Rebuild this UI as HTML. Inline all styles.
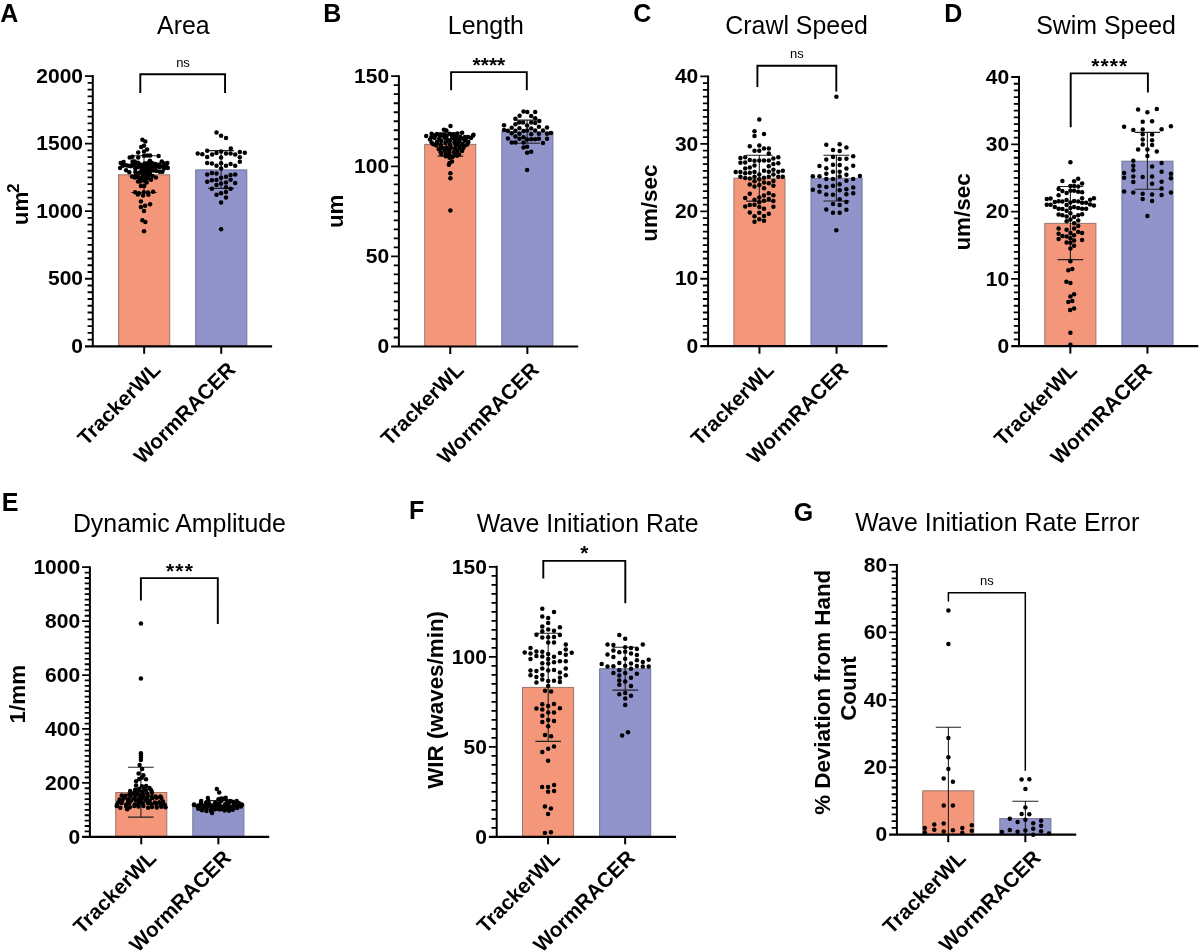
<!DOCTYPE html>
<html><head><meta charset="utf-8"><style>
html,body{margin:0;padding:0;background:#fff;}
svg{display:block;font-family:"Liberation Sans", sans-serif;filter:blur(0.3px);}
</style></head><body>
<svg width="1200" height="952" viewBox="0 0 1200 952">
<rect width="1200" height="952" fill="#fff"/>
<rect x="118.60" y="174.80" width="51.10" height="171.50" fill="#F3967A" stroke="#9A766E" stroke-width="1"/>
<rect x="195.70" y="169.90" width="51.10" height="176.40" fill="#9194CA" stroke="#74769A" stroke-width="1"/>
<path d="M131.25,155.70H156.75M144.00,155.70V192.50M131.25,192.50H156.75" stroke="#222" stroke-width="1.1" fill="none"/>
<path d="M208.10,150.60H234.10M221.10,150.60V188.40M208.10,188.40H234.10" stroke="#222" stroke-width="1.1" fill="none"/>
<circle cx="142.4" cy="139.7" r="2.25"/>
<circle cx="145.3" cy="141.4" r="2.25"/>
<circle cx="141.2" cy="146.9" r="2.25"/>
<circle cx="144.0" cy="145.8" r="2.25"/>
<circle cx="147.1" cy="149.4" r="2.25"/>
<circle cx="144.0" cy="151.6" r="2.25"/>
<circle cx="138.2" cy="152.6" r="2.25"/>
<circle cx="129.7" cy="157.6" r="2.25"/>
<circle cx="132.4" cy="156.8" r="2.25"/>
<circle cx="138.2" cy="157.6" r="2.25"/>
<circle cx="144.0" cy="155.7" r="2.25"/>
<circle cx="147.1" cy="155.4" r="2.25"/>
<circle cx="150.1" cy="155.4" r="2.25"/>
<circle cx="158.6" cy="156.1" r="2.25"/>
<circle cx="140.9" cy="186.1" r="2.25"/>
<circle cx="144.2" cy="186.1" r="2.25"/>
<circle cx="140.9" cy="201.5" r="2.25"/>
<circle cx="150.1" cy="204.3" r="2.25"/>
<circle cx="145.1" cy="205.7" r="2.25"/>
<circle cx="140.9" cy="207.1" r="2.25"/>
<circle cx="144.0" cy="210.9" r="2.25"/>
<circle cx="142.4" cy="220.3" r="2.25"/>
<circle cx="145.3" cy="222.0" r="2.25"/>
<circle cx="144.0" cy="231.3" r="2.25"/>
<circle cx="135.2" cy="192.3" r="2.25"/>
<circle cx="138.8" cy="193.2" r="2.25"/>
<circle cx="143.8" cy="192.2" r="2.25"/>
<circle cx="148.0" cy="192.6" r="2.25"/>
<circle cx="153.1" cy="191.7" r="2.25"/>
<circle cx="137.9" cy="194.6" r="2.25"/>
<circle cx="143.1" cy="195.6" r="2.25"/>
<circle cx="148.4" cy="194.7" r="2.25"/>
<circle cx="120.7" cy="163.0" r="2.25"/>
<circle cx="123.6" cy="161.9" r="2.25"/>
<circle cx="132.6" cy="161.6" r="2.25"/>
<circle cx="134.8" cy="161.6" r="2.25"/>
<circle cx="138.0" cy="162.7" r="2.25"/>
<circle cx="149.9" cy="160.8" r="2.25"/>
<circle cx="152.1" cy="163.0" r="2.25"/>
<circle cx="161.8" cy="161.6" r="2.25"/>
<circle cx="167.3" cy="163.0" r="2.25"/>
<circle cx="120.1" cy="167.9" r="2.25"/>
<circle cx="126.1" cy="165.2" r="2.25"/>
<circle cx="128.3" cy="165.7" r="2.25"/>
<circle cx="131.0" cy="166.3" r="2.25"/>
<circle cx="134.8" cy="165.7" r="2.25"/>
<circle cx="138.0" cy="167.3" r="2.25"/>
<circle cx="141.3" cy="166.3" r="2.25"/>
<circle cx="143.4" cy="166.3" r="2.25"/>
<circle cx="146.7" cy="164.6" r="2.25"/>
<circle cx="149.9" cy="165.7" r="2.25"/>
<circle cx="153.2" cy="166.3" r="2.25"/>
<circle cx="156.4" cy="166.3" r="2.25"/>
<circle cx="159.7" cy="167.3" r="2.25"/>
<circle cx="162.9" cy="166.3" r="2.25"/>
<circle cx="166.2" cy="165.2" r="2.25"/>
<circle cx="167.8" cy="167.9" r="2.25"/>
<circle cx="122.8" cy="165.7" r="2.25"/>
<circle cx="144.5" cy="163.5" r="2.25"/>
<circle cx="147.8" cy="163.0" r="2.25"/>
<circle cx="155.3" cy="164.1" r="2.25"/>
<circle cx="159.1" cy="164.6" r="2.25"/>
<circle cx="164.0" cy="163.5" r="2.25"/>
<circle cx="132.6" cy="163.8" r="2.25"/>
<circle cx="135.8" cy="164.1" r="2.25"/>
<circle cx="140.2" cy="164.6" r="2.25"/>
<circle cx="142.3" cy="168.4" r="2.25"/>
<circle cx="145.6" cy="167.9" r="2.25"/>
<circle cx="148.8" cy="167.9" r="2.25"/>
<circle cx="152.1" cy="168.4" r="2.25"/>
<circle cx="155.3" cy="168.4" r="2.25"/>
<circle cx="164.0" cy="168.4" r="2.25"/>
<circle cx="166.2" cy="167.3" r="2.25"/>
<circle cx="135.3" cy="168.4" r="2.25"/>
<circle cx="126.1" cy="170.3" r="2.25"/>
<circle cx="129.3" cy="172.2" r="2.25"/>
<circle cx="135.3" cy="171.9" r="2.25"/>
<circle cx="141.3" cy="171.1" r="2.25"/>
<circle cx="144.0" cy="170.0" r="2.25"/>
<circle cx="147.2" cy="170.6" r="2.25"/>
<circle cx="149.9" cy="169.5" r="2.25"/>
<circle cx="153.2" cy="170.6" r="2.25"/>
<circle cx="156.4" cy="171.1" r="2.25"/>
<circle cx="159.7" cy="171.7" r="2.25"/>
<circle cx="162.4" cy="171.7" r="2.25"/>
<circle cx="139.1" cy="172.8" r="2.25"/>
<circle cx="142.3" cy="173.3" r="2.25"/>
<circle cx="146.7" cy="173.3" r="2.25"/>
<circle cx="149.9" cy="172.8" r="2.25"/>
<circle cx="144.5" cy="172.2" r="2.25"/>
<circle cx="148.8" cy="171.7" r="2.25"/>
<circle cx="132.0" cy="176.5" r="2.25"/>
<circle cx="134.8" cy="177.6" r="2.25"/>
<circle cx="138.0" cy="177.1" r="2.25"/>
<circle cx="142.3" cy="177.1" r="2.25"/>
<circle cx="145.6" cy="176.5" r="2.25"/>
<circle cx="149.4" cy="175.5" r="2.25"/>
<circle cx="155.9" cy="177.4" r="2.25"/>
<circle cx="151.0" cy="179.8" r="2.25"/>
<circle cx="138.0" cy="181.4" r="2.25"/>
<circle cx="140.2" cy="181.4" r="2.25"/>
<circle cx="142.3" cy="180.3" r="2.25"/>
<circle cx="146.7" cy="182.5" r="2.25"/>
<circle cx="144.5" cy="178.7" r="2.25"/>
<circle cx="147.8" cy="178.2" r="2.25"/>
<circle cx="140.2" cy="178.7" r="2.25"/>
<circle cx="135.8" cy="175.5" r="2.25"/>
<circle cx="152.6" cy="176.0" r="2.25"/>
<circle cx="145.6" cy="180.9" r="2.25"/>
<circle cx="216.5" cy="132.4" r="2.25"/>
<circle cx="221.1" cy="135.8" r="2.25"/>
<circle cx="226.0" cy="137.9" r="2.25"/>
<circle cx="230.8" cy="148.5" r="2.25"/>
<circle cx="197.7" cy="153.4" r="2.25"/>
<circle cx="202.3" cy="154.3" r="2.25"/>
<circle cx="207.2" cy="150.8" r="2.25"/>
<circle cx="212.1" cy="154.6" r="2.25"/>
<circle cx="216.5" cy="153.1" r="2.25"/>
<circle cx="221.1" cy="151.6" r="2.25"/>
<circle cx="226.0" cy="153.5" r="2.25"/>
<circle cx="230.6" cy="153.5" r="2.25"/>
<circle cx="235.2" cy="154.6" r="2.25"/>
<circle cx="239.8" cy="152.0" r="2.25"/>
<circle cx="244.8" cy="152.8" r="2.25"/>
<circle cx="207.2" cy="156.9" r="2.25"/>
<circle cx="221.1" cy="157.4" r="2.25"/>
<circle cx="239.8" cy="157.2" r="2.25"/>
<circle cx="239.8" cy="161.8" r="2.25"/>
<circle cx="207.2" cy="163.0" r="2.25"/>
<circle cx="211.9" cy="163.5" r="2.25"/>
<circle cx="216.5" cy="165.8" r="2.25"/>
<circle cx="221.1" cy="163.2" r="2.25"/>
<circle cx="226.0" cy="165.8" r="2.25"/>
<circle cx="230.6" cy="163.9" r="2.25"/>
<circle cx="235.2" cy="165.8" r="2.25"/>
<circle cx="221.1" cy="168.5" r="2.25"/>
<circle cx="207.2" cy="174.5" r="2.25"/>
<circle cx="211.9" cy="173.1" r="2.25"/>
<circle cx="216.5" cy="173.6" r="2.25"/>
<circle cx="230.6" cy="175.1" r="2.25"/>
<circle cx="235.2" cy="174.5" r="2.25"/>
<circle cx="221.1" cy="177.7" r="2.25"/>
<circle cx="226.0" cy="176.8" r="2.25"/>
<circle cx="207.2" cy="181.8" r="2.25"/>
<circle cx="211.9" cy="180.3" r="2.25"/>
<circle cx="216.5" cy="180.0" r="2.25"/>
<circle cx="230.6" cy="179.7" r="2.25"/>
<circle cx="235.2" cy="182.9" r="2.25"/>
<circle cx="216.5" cy="185.1" r="2.25"/>
<circle cx="221.1" cy="183.4" r="2.25"/>
<circle cx="226.0" cy="182.6" r="2.25"/>
<circle cx="211.9" cy="188.7" r="2.25"/>
<circle cx="226.0" cy="187.2" r="2.25"/>
<circle cx="230.6" cy="188.7" r="2.25"/>
<circle cx="226.0" cy="192.1" r="2.25"/>
<circle cx="216.5" cy="194.7" r="2.25"/>
<circle cx="221.1" cy="193.3" r="2.25"/>
<circle cx="226.0" cy="197.6" r="2.25"/>
<circle cx="221.1" cy="202.4" r="2.25"/>
<circle cx="221.1" cy="229.3" r="2.25"/>
<path d="M92.80,75.10V346.30" stroke="#000" stroke-width="2" fill="none"/>
<path d="M85.00,346.30H272.10" stroke="#000" stroke-width="2.2" fill="none"/>
<path d="M87.60,339.55H92.80M87.60,332.79H92.80M87.60,326.04H92.80M87.60,319.28H92.80M87.60,312.52H92.80M87.60,305.77H92.80M87.60,299.01H92.80M87.60,292.26H92.80M87.60,285.50H92.80M85.00,278.75H92.80M87.60,272.00H92.80M87.60,265.24H92.80M87.60,258.49H92.80M87.60,251.73H92.80M87.60,244.97H92.80M87.60,238.22H92.80M87.60,231.46H92.80M87.60,224.71H92.80M87.60,217.95H92.80M85.00,211.20H92.80M87.60,204.44H92.80M87.60,197.69H92.80M87.60,190.93H92.80M87.60,184.18H92.80M87.60,177.42H92.80M87.60,170.67H92.80M87.60,163.91H92.80M87.60,157.16H92.80M87.60,150.40H92.80M85.00,143.65H92.80M87.60,136.89H92.80M87.60,130.14H92.80M87.60,123.38H92.80M87.60,116.63H92.80M87.60,109.87H92.80M87.60,103.12H92.80M87.60,96.36H92.80M87.60,89.61H92.80M87.60,82.85H92.80M85.00,76.10H92.80" stroke="#000" stroke-width="1.8" fill="none"/>
<path d="M144.15,346.30V353.80" stroke="#000" stroke-width="2" fill="none"/>
<path d="M221.25,346.30V353.80" stroke="#000" stroke-width="2" fill="none"/>
<text x="83.00" y="353.00" font-size="21" font-weight="bold" text-anchor="end" >0</text>
<text x="83.00" y="285.45" font-size="21" font-weight="bold" text-anchor="end" >500</text>
<text x="83.00" y="217.90" font-size="21" font-weight="bold" text-anchor="end" >1000</text>
<text x="83.00" y="150.35" font-size="21" font-weight="bold" text-anchor="end" >1500</text>
<text x="83.00" y="82.80" font-size="21" font-weight="bold" text-anchor="end" >2000</text>
<text transform="translate(161.70,371.00) rotate(-45)" font-size="20.9" font-weight="bold" text-anchor="end">TrackerWL</text>
<text transform="translate(236.55,370.85) rotate(-45)" font-size="20.9" font-weight="bold" text-anchor="end">WormRACER</text>
<path d="M140.30,93.00V74.20H225.05V93.00" stroke="#000" stroke-width="1.9" fill="none"/>
<text x="183.00" y="66.70" font-size="13" font-weight="normal" text-anchor="middle" >ns</text>
<text x="0.30" y="21.80" font-size="25" font-weight="bold" text-anchor="start" >A</text>
<text x="183.40" y="34.00" font-size="24.9" font-weight="normal" text-anchor="middle" >Area</text>
<text transform="translate(27.70,204.30) rotate(-90)" font-size="22.4" font-weight="bold" text-anchor="middle">um<tspan font-size="17.2" dx="-1.2" dy="-8.6">2</tspan></text>
<rect x="424.70" y="144.40" width="51.10" height="202.10" fill="#F3967A" stroke="#9A766E" stroke-width="1"/>
<rect x="501.80" y="131.80" width="51.10" height="214.70" fill="#9194CA" stroke="#74769A" stroke-width="1"/>
<path d="M437.60,132.70H463.20M450.40,132.70V156.10M437.60,156.10H463.20" stroke="#222" stroke-width="1.1" fill="none"/>
<path d="M514.10,120.10H540.10M527.10,120.10V143.20M514.10,143.20H540.10" stroke="#222" stroke-width="1.1" fill="none"/>
<circle cx="450.5" cy="126.1" r="2.25"/>
<circle cx="443.9" cy="129.7" r="2.25"/>
<circle cx="446.4" cy="130.6" r="2.25"/>
<circle cx="431.6" cy="133.8" r="2.25"/>
<circle cx="473.5" cy="134.7" r="2.25"/>
<circle cx="452.0" cy="161.5" r="2.25"/>
<circle cx="449.5" cy="163.1" r="2.25"/>
<circle cx="448.9" cy="164.7" r="2.25"/>
<circle cx="436.9" cy="133.9" r="2.25"/>
<circle cx="440.9" cy="134.8" r="2.25"/>
<circle cx="444.6" cy="134.8" r="2.25"/>
<circle cx="449.4" cy="133.8" r="2.25"/>
<circle cx="453.1" cy="134.2" r="2.25"/>
<circle cx="457.4" cy="133.4" r="2.25"/>
<circle cx="462.1" cy="132.7" r="2.25"/>
<circle cx="426.2" cy="135.9" r="2.25"/>
<circle cx="431.3" cy="137.3" r="2.25"/>
<circle cx="435.1" cy="135.2" r="2.25"/>
<circle cx="439.7" cy="137.1" r="2.25"/>
<circle cx="443.7" cy="135.6" r="2.25"/>
<circle cx="446.7" cy="136.1" r="2.25"/>
<circle cx="452.3" cy="136.5" r="2.25"/>
<circle cx="456.3" cy="135.7" r="2.25"/>
<circle cx="460.2" cy="136.7" r="2.25"/>
<circle cx="465.0" cy="137.0" r="2.25"/>
<circle cx="468.1" cy="137.1" r="2.25"/>
<circle cx="472.9" cy="135.7" r="2.25"/>
<circle cx="430.0" cy="139.5" r="2.25"/>
<circle cx="434.6" cy="138.1" r="2.25"/>
<circle cx="439.2" cy="138.8" r="2.25"/>
<circle cx="444.5" cy="137.8" r="2.25"/>
<circle cx="447.6" cy="139.9" r="2.25"/>
<circle cx="453.3" cy="138.0" r="2.25"/>
<circle cx="456.8" cy="138.9" r="2.25"/>
<circle cx="461.2" cy="138.4" r="2.25"/>
<circle cx="465.6" cy="139.3" r="2.25"/>
<circle cx="471.0" cy="137.9" r="2.25"/>
<circle cx="431.6" cy="142.4" r="2.25"/>
<circle cx="436.9" cy="142.0" r="2.25"/>
<circle cx="441.3" cy="141.0" r="2.25"/>
<circle cx="445.7" cy="141.9" r="2.25"/>
<circle cx="450.0" cy="140.4" r="2.25"/>
<circle cx="454.8" cy="140.9" r="2.25"/>
<circle cx="459.4" cy="141.2" r="2.25"/>
<circle cx="464.6" cy="140.7" r="2.25"/>
<circle cx="468.4" cy="141.9" r="2.25"/>
<circle cx="433.1" cy="144.3" r="2.25"/>
<circle cx="437.5" cy="142.9" r="2.25"/>
<circle cx="441.0" cy="144.9" r="2.25"/>
<circle cx="445.4" cy="143.1" r="2.25"/>
<circle cx="449.8" cy="143.9" r="2.25"/>
<circle cx="454.4" cy="142.8" r="2.25"/>
<circle cx="457.8" cy="143.8" r="2.25"/>
<circle cx="462.4" cy="144.1" r="2.25"/>
<circle cx="467.2" cy="144.5" r="2.25"/>
<circle cx="436.3" cy="145.5" r="2.25"/>
<circle cx="441.0" cy="146.2" r="2.25"/>
<circle cx="446.3" cy="147.4" r="2.25"/>
<circle cx="450.3" cy="145.8" r="2.25"/>
<circle cx="455.9" cy="145.3" r="2.25"/>
<circle cx="459.6" cy="146.1" r="2.25"/>
<circle cx="464.7" cy="145.7" r="2.25"/>
<circle cx="438.8" cy="149.3" r="2.25"/>
<circle cx="442.9" cy="148.3" r="2.25"/>
<circle cx="446.8" cy="149.3" r="2.25"/>
<circle cx="450.8" cy="147.9" r="2.25"/>
<circle cx="455.1" cy="148.2" r="2.25"/>
<circle cx="459.5" cy="148.2" r="2.25"/>
<circle cx="463.4" cy="148.1" r="2.25"/>
<circle cx="440.7" cy="152.3" r="2.25"/>
<circle cx="444.7" cy="151.0" r="2.25"/>
<circle cx="449.3" cy="151.8" r="2.25"/>
<circle cx="453.9" cy="152.1" r="2.25"/>
<circle cx="457.4" cy="151.3" r="2.25"/>
<circle cx="462.1" cy="151.1" r="2.25"/>
<circle cx="441.3" cy="154.0" r="2.25"/>
<circle cx="445.9" cy="154.2" r="2.25"/>
<circle cx="449.4" cy="153.7" r="2.25"/>
<circle cx="454.9" cy="152.9" r="2.25"/>
<circle cx="459.0" cy="154.5" r="2.25"/>
<circle cx="445.7" cy="156.2" r="2.25"/>
<circle cx="449.3" cy="155.7" r="2.25"/>
<circle cx="452.9" cy="156.4" r="2.25"/>
<circle cx="457.1" cy="155.8" r="2.25"/>
<circle cx="449.5" cy="157.8" r="2.25"/>
<circle cx="452.0" cy="157.3" r="2.25"/>
<circle cx="450.4" cy="173.3" r="2.25"/>
<circle cx="450.4" cy="178.3" r="2.25"/>
<circle cx="450.4" cy="210.4" r="2.25"/>
<circle cx="523.5" cy="111.6" r="2.25"/>
<circle cx="527.3" cy="112.0" r="2.25"/>
<circle cx="535.2" cy="112.0" r="2.25"/>
<circle cx="519.6" cy="115.7" r="2.25"/>
<circle cx="531.2" cy="115.9" r="2.25"/>
<circle cx="515.4" cy="118.8" r="2.25"/>
<circle cx="535.2" cy="118.2" r="2.25"/>
<circle cx="539.3" cy="121.0" r="2.25"/>
<circle cx="515.4" cy="124.3" r="2.25"/>
<circle cx="519.1" cy="122.5" r="2.25"/>
<circle cx="523.1" cy="122.5" r="2.25"/>
<circle cx="531.2" cy="122.5" r="2.25"/>
<circle cx="535.2" cy="123.0" r="2.25"/>
<circle cx="504.0" cy="125.2" r="2.25"/>
<circle cx="527.1" cy="125.6" r="2.25"/>
<circle cx="538.9" cy="126.7" r="2.25"/>
<circle cx="511.7" cy="127.8" r="2.25"/>
<circle cx="519.4" cy="128.2" r="2.25"/>
<circle cx="531.2" cy="128.4" r="2.25"/>
<circle cx="547.0" cy="127.6" r="2.25"/>
<circle cx="504.0" cy="130.0" r="2.25"/>
<circle cx="507.9" cy="130.7" r="2.25"/>
<circle cx="515.4" cy="130.7" r="2.25"/>
<circle cx="523.5" cy="131.1" r="2.25"/>
<circle cx="527.1" cy="130.4" r="2.25"/>
<circle cx="535.2" cy="130.4" r="2.25"/>
<circle cx="543.0" cy="130.4" r="2.25"/>
<circle cx="511.7" cy="133.3" r="2.25"/>
<circle cx="519.4" cy="133.8" r="2.25"/>
<circle cx="531.2" cy="134.3" r="2.25"/>
<circle cx="538.9" cy="133.7" r="2.25"/>
<circle cx="547.0" cy="133.7" r="2.25"/>
<circle cx="551.0" cy="133.1" r="2.25"/>
<circle cx="515.4" cy="136.5" r="2.25"/>
<circle cx="523.5" cy="137.2" r="2.25"/>
<circle cx="507.9" cy="138.5" r="2.25"/>
<circle cx="519.4" cy="138.8" r="2.25"/>
<circle cx="527.1" cy="139.6" r="2.25"/>
<circle cx="531.2" cy="139.2" r="2.25"/>
<circle cx="535.2" cy="139.2" r="2.25"/>
<circle cx="538.9" cy="138.8" r="2.25"/>
<circle cx="547.0" cy="138.7" r="2.25"/>
<circle cx="511.7" cy="142.6" r="2.25"/>
<circle cx="515.4" cy="142.6" r="2.25"/>
<circle cx="523.5" cy="142.6" r="2.25"/>
<circle cx="543.0" cy="142.9" r="2.25"/>
<circle cx="523.5" cy="147.5" r="2.25"/>
<circle cx="527.1" cy="146.8" r="2.25"/>
<circle cx="527.1" cy="152.8" r="2.25"/>
<circle cx="531.2" cy="151.7" r="2.25"/>
<circle cx="527.1" cy="170.1" r="2.25"/>
<path d="M398.90,75.20V346.50" stroke="#000" stroke-width="2" fill="none"/>
<path d="M391.10,346.50H578.20" stroke="#000" stroke-width="2.2" fill="none"/>
<path d="M393.70,337.49H398.90M393.70,328.48H398.90M393.70,319.47H398.90M393.70,310.46H398.90M393.70,301.45H398.90M393.70,292.44H398.90M393.70,283.43H398.90M393.70,274.42H398.90M393.70,265.41H398.90M391.10,256.40H398.90M393.70,247.39H398.90M393.70,238.38H398.90M393.70,229.37H398.90M393.70,220.36H398.90M393.70,211.35H398.90M393.70,202.34H398.90M393.70,193.33H398.90M393.70,184.32H398.90M393.70,175.31H398.90M391.10,166.30H398.90M393.70,157.29H398.90M393.70,148.28H398.90M393.70,139.27H398.90M393.70,130.26H398.90M393.70,121.25H398.90M393.70,112.24H398.90M393.70,103.23H398.90M393.70,94.22H398.90M393.70,85.21H398.90M391.10,76.20H398.90" stroke="#000" stroke-width="1.8" fill="none"/>
<path d="M450.25,346.50V354.00" stroke="#000" stroke-width="2" fill="none"/>
<path d="M527.35,346.50V354.00" stroke="#000" stroke-width="2" fill="none"/>
<text x="389.10" y="353.20" font-size="21" font-weight="bold" text-anchor="end" >0</text>
<text x="389.10" y="263.10" font-size="21" font-weight="bold" text-anchor="end" >50</text>
<text x="389.10" y="173.00" font-size="21" font-weight="bold" text-anchor="end" >100</text>
<text x="389.10" y="82.90" font-size="21" font-weight="bold" text-anchor="end" >150</text>
<text transform="translate(464.95,371.20) rotate(-45)" font-size="20.9" font-weight="bold" text-anchor="end">TrackerWL</text>
<text transform="translate(540.05,371.05) rotate(-45)" font-size="20.9" font-weight="bold" text-anchor="end">WormRACER</text>
<path d="M451.10,90.20V72.10H526.80V90.20" stroke="#000" stroke-width="1.9" fill="none"/>
<text x="488.90" y="71.80" font-size="21" font-weight="bold" text-anchor="middle" >****</text>
<text x="323.30" y="22.00" font-size="25" font-weight="bold" text-anchor="start" >B</text>
<text x="485.90" y="34.00" font-size="24.9" font-weight="normal" text-anchor="middle" >Length</text>
<text transform="translate(342.60,211.30) rotate(-90)" font-size="22.4" font-weight="bold" text-anchor="middle">um</text>
<rect x="733.90" y="178.20" width="51.10" height="168.00" fill="#F3967A" stroke="#9A766E" stroke-width="1"/>
<rect x="811.00" y="178.30" width="51.10" height="167.90" fill="#9194CA" stroke="#74769A" stroke-width="1"/>
<path d="M746.05,155.30H772.55M759.30,155.30V201.10M746.05,201.10H772.55" stroke="#222" stroke-width="1.1" fill="none"/>
<path d="M823.40,155.30H849.40M836.40,155.30V201.00M823.40,201.00H849.40" stroke="#222" stroke-width="1.1" fill="none"/>
<circle cx="759.3" cy="119.6" r="2.25"/>
<circle cx="754.5" cy="131.2" r="2.25"/>
<circle cx="754.5" cy="135.9" r="2.25"/>
<circle cx="764.0" cy="134.0" r="2.25"/>
<circle cx="749.8" cy="146.3" r="2.25"/>
<circle cx="759.3" cy="145.6" r="2.25"/>
<circle cx="754.5" cy="150.7" r="2.25"/>
<circle cx="759.3" cy="150.8" r="2.25"/>
<circle cx="764.0" cy="148.6" r="2.25"/>
<circle cx="768.8" cy="148.6" r="2.25"/>
<circle cx="768.8" cy="153.6" r="2.25"/>
<circle cx="740.4" cy="158.1" r="2.25"/>
<circle cx="745.2" cy="157.2" r="2.25"/>
<circle cx="773.4" cy="158.4" r="2.25"/>
<circle cx="778.3" cy="157.2" r="2.25"/>
<circle cx="749.8" cy="160.1" r="2.25"/>
<circle cx="754.5" cy="160.7" r="2.25"/>
<circle cx="759.3" cy="160.6" r="2.25"/>
<circle cx="764.0" cy="160.6" r="2.25"/>
<circle cx="768.8" cy="160.6" r="2.25"/>
<circle cx="740.4" cy="162.8" r="2.25"/>
<circle cx="745.2" cy="162.4" r="2.25"/>
<circle cx="773.4" cy="164.1" r="2.25"/>
<circle cx="778.3" cy="163.3" r="2.25"/>
<circle cx="754.5" cy="165.4" r="2.25"/>
<circle cx="768.8" cy="166.2" r="2.25"/>
<circle cx="745.2" cy="168.5" r="2.25"/>
<circle cx="749.8" cy="167.6" r="2.25"/>
<circle cx="735.7" cy="172.1" r="2.25"/>
<circle cx="740.4" cy="172.1" r="2.25"/>
<circle cx="745.2" cy="173.2" r="2.25"/>
<circle cx="749.8" cy="172.7" r="2.25"/>
<circle cx="754.5" cy="172.1" r="2.25"/>
<circle cx="764.0" cy="170.8" r="2.25"/>
<circle cx="768.8" cy="171.8" r="2.25"/>
<circle cx="773.4" cy="169.8" r="2.25"/>
<circle cx="778.3" cy="171.8" r="2.25"/>
<circle cx="782.8" cy="170.8" r="2.25"/>
<circle cx="759.3" cy="174.4" r="2.25"/>
<circle cx="773.4" cy="174.4" r="2.25"/>
<circle cx="740.4" cy="176.7" r="2.25"/>
<circle cx="745.2" cy="178.0" r="2.25"/>
<circle cx="749.8" cy="178.4" r="2.25"/>
<circle cx="754.5" cy="176.7" r="2.25"/>
<circle cx="764.0" cy="177.7" r="2.25"/>
<circle cx="768.8" cy="176.7" r="2.25"/>
<circle cx="778.3" cy="176.7" r="2.25"/>
<circle cx="782.8" cy="176.7" r="2.25"/>
<circle cx="754.5" cy="181.3" r="2.25"/>
<circle cx="759.3" cy="179.2" r="2.25"/>
<circle cx="773.4" cy="180.9" r="2.25"/>
<circle cx="749.8" cy="184.4" r="2.25"/>
<circle cx="754.5" cy="186.6" r="2.25"/>
<circle cx="759.3" cy="185.1" r="2.25"/>
<circle cx="764.0" cy="182.6" r="2.25"/>
<circle cx="768.8" cy="183.3" r="2.25"/>
<circle cx="773.4" cy="185.8" r="2.25"/>
<circle cx="764.0" cy="188.3" r="2.25"/>
<circle cx="749.8" cy="193.8" r="2.25"/>
<circle cx="764.0" cy="195.5" r="2.25"/>
<circle cx="768.8" cy="193.2" r="2.25"/>
<circle cx="773.4" cy="195.3" r="2.25"/>
<circle cx="745.2" cy="198.0" r="2.25"/>
<circle cx="759.3" cy="197.6" r="2.25"/>
<circle cx="754.5" cy="199.7" r="2.25"/>
<circle cx="768.8" cy="198.9" r="2.25"/>
<circle cx="764.0" cy="200.8" r="2.25"/>
<circle cx="773.4" cy="201.0" r="2.25"/>
<circle cx="759.3" cy="202.2" r="2.25"/>
<circle cx="745.2" cy="206.4" r="2.25"/>
<circle cx="749.8" cy="205.0" r="2.25"/>
<circle cx="754.5" cy="204.7" r="2.25"/>
<circle cx="759.3" cy="207.0" r="2.25"/>
<circle cx="764.0" cy="208.7" r="2.25"/>
<circle cx="773.4" cy="206.7" r="2.25"/>
<circle cx="749.8" cy="212.6" r="2.25"/>
<circle cx="759.3" cy="212.7" r="2.25"/>
<circle cx="768.8" cy="213.7" r="2.25"/>
<circle cx="754.5" cy="216.3" r="2.25"/>
<circle cx="764.0" cy="215.9" r="2.25"/>
<circle cx="759.3" cy="219.3" r="2.25"/>
<circle cx="754.5" cy="221.8" r="2.25"/>
<circle cx="764.0" cy="220.7" r="2.25"/>
<circle cx="826.3" cy="144.7" r="2.25"/>
<circle cx="839.7" cy="144.2" r="2.25"/>
<circle cx="846.4" cy="147.6" r="2.25"/>
<circle cx="833.0" cy="150.0" r="2.25"/>
<circle cx="839.7" cy="151.1" r="2.25"/>
<circle cx="853.2" cy="156.2" r="2.25"/>
<circle cx="833.0" cy="157.0" r="2.25"/>
<circle cx="826.3" cy="159.4" r="2.25"/>
<circle cx="839.7" cy="158.9" r="2.25"/>
<circle cx="846.4" cy="158.8" r="2.25"/>
<circle cx="819.5" cy="165.9" r="2.25"/>
<circle cx="833.0" cy="164.8" r="2.25"/>
<circle cx="839.7" cy="165.1" r="2.25"/>
<circle cx="853.2" cy="165.7" r="2.25"/>
<circle cx="826.3" cy="168.2" r="2.25"/>
<circle cx="846.4" cy="168.4" r="2.25"/>
<circle cx="833.0" cy="171.8" r="2.25"/>
<circle cx="839.7" cy="171.8" r="2.25"/>
<circle cx="826.3" cy="173.7" r="2.25"/>
<circle cx="846.4" cy="174.7" r="2.25"/>
<circle cx="812.8" cy="176.3" r="2.25"/>
<circle cx="819.5" cy="176.3" r="2.25"/>
<circle cx="839.7" cy="176.6" r="2.25"/>
<circle cx="859.9" cy="176.0" r="2.25"/>
<circle cx="826.3" cy="178.9" r="2.25"/>
<circle cx="833.0" cy="179.1" r="2.25"/>
<circle cx="853.2" cy="178.9" r="2.25"/>
<circle cx="846.4" cy="180.8" r="2.25"/>
<circle cx="839.7" cy="184.2" r="2.25"/>
<circle cx="819.5" cy="186.1" r="2.25"/>
<circle cx="833.0" cy="185.8" r="2.25"/>
<circle cx="826.3" cy="186.9" r="2.25"/>
<circle cx="853.2" cy="187.5" r="2.25"/>
<circle cx="812.8" cy="189.8" r="2.25"/>
<circle cx="839.7" cy="190.3" r="2.25"/>
<circle cx="846.4" cy="189.2" r="2.25"/>
<circle cx="819.5" cy="191.7" r="2.25"/>
<circle cx="853.2" cy="193.2" r="2.25"/>
<circle cx="826.3" cy="194.5" r="2.25"/>
<circle cx="833.0" cy="194.7" r="2.25"/>
<circle cx="846.4" cy="194.2" r="2.25"/>
<circle cx="839.7" cy="199.3" r="2.25"/>
<circle cx="846.4" cy="202.1" r="2.25"/>
<circle cx="833.0" cy="203.9" r="2.25"/>
<circle cx="839.7" cy="204.9" r="2.25"/>
<circle cx="826.3" cy="209.4" r="2.25"/>
<circle cx="846.4" cy="209.8" r="2.25"/>
<circle cx="833.0" cy="212.7" r="2.25"/>
<circle cx="839.7" cy="212.7" r="2.25"/>
<circle cx="836.4" cy="96.8" r="2.25"/>
<circle cx="836.3" cy="230.3" r="2.25"/>
<path d="M708.10,75.40V346.20" stroke="#000" stroke-width="2" fill="none"/>
<path d="M700.30,346.20H887.40" stroke="#000" stroke-width="2.2" fill="none"/>
<path d="M702.90,339.45H708.10M702.90,332.71H708.10M702.90,325.96H708.10M702.90,319.22H708.10M702.90,312.48H708.10M702.90,305.73H708.10M702.90,298.99H708.10M702.90,292.24H708.10M702.90,285.50H708.10M700.30,278.75H708.10M702.90,272.00H708.10M702.90,265.26H708.10M702.90,258.51H708.10M702.90,251.77H708.10M702.90,245.03H708.10M702.90,238.28H708.10M702.90,231.54H708.10M702.90,224.79H708.10M702.90,218.05H708.10M700.30,211.30H708.10M702.90,204.56H708.10M702.90,197.81H708.10M702.90,191.07H708.10M702.90,184.32H708.10M702.90,177.58H708.10M702.90,170.83H708.10M702.90,164.09H708.10M702.90,157.34H708.10M702.90,150.60H708.10M700.30,143.85H708.10M702.90,137.11H708.10M702.90,130.36H708.10M702.90,123.62H708.10M702.90,116.87H708.10M702.90,110.13H708.10M702.90,103.38H708.10M702.90,96.64H708.10M702.90,89.89H708.10M702.90,83.15H708.10M700.30,76.40H708.10" stroke="#000" stroke-width="1.8" fill="none"/>
<path d="M759.45,346.20V353.70" stroke="#000" stroke-width="2" fill="none"/>
<path d="M836.55,346.20V353.70" stroke="#000" stroke-width="2" fill="none"/>
<text x="698.30" y="352.90" font-size="21" font-weight="bold" text-anchor="end" >0</text>
<text x="698.30" y="285.45" font-size="21" font-weight="bold" text-anchor="end" >10</text>
<text x="698.30" y="218.00" font-size="21" font-weight="bold" text-anchor="end" >20</text>
<text x="698.30" y="150.55" font-size="21" font-weight="bold" text-anchor="end" >30</text>
<text x="698.30" y="83.10" font-size="21" font-weight="bold" text-anchor="end" >40</text>
<text transform="translate(775.15,371.30) rotate(-45)" font-size="20.9" font-weight="bold" text-anchor="end">TrackerWL</text>
<text transform="translate(849.55,371.00) rotate(-45)" font-size="20.9" font-weight="bold" text-anchor="end">WormRACER</text>
<path d="M757.40,87.00V65.70H836.30V91.40" stroke="#000" stroke-width="1.9" fill="none"/>
<text x="796.90" y="57.70" font-size="13" font-weight="normal" text-anchor="middle" >ns</text>
<text x="633.30" y="22.00" font-size="25" font-weight="bold" text-anchor="start" >C</text>
<text x="796.60" y="34.00" font-size="24.9" font-weight="normal" text-anchor="middle" >Crawl Speed</text>
<text transform="translate(656.80,203.20) rotate(-90)" font-size="22.4" font-weight="bold" text-anchor="middle">um/sec</text>
<rect x="1044.80" y="223.40" width="51.10" height="122.70" fill="#F3967A" stroke="#9A766E" stroke-width="1"/>
<rect x="1121.90" y="161.20" width="51.10" height="184.90" fill="#9194CA" stroke="#74769A" stroke-width="1"/>
<path d="M1057.50,186.50H1083.30M1070.40,186.50V259.60M1057.50,259.60H1083.30" stroke="#222" stroke-width="1.1" fill="none"/>
<path d="M1134.65,132.40H1160.15M1147.40,132.40V189.30M1134.65,189.30H1160.15" stroke="#222" stroke-width="1.1" fill="none"/>
<circle cx="1070.4" cy="162.3" r="2.25"/>
<circle cx="1062.4" cy="181.0" r="2.25"/>
<circle cx="1074.1" cy="181.2" r="2.25"/>
<circle cx="1078.2" cy="178.7" r="2.25"/>
<circle cx="1082.1" cy="183.5" r="2.25"/>
<circle cx="1070.4" cy="186.0" r="2.25"/>
<circle cx="1074.1" cy="186.0" r="2.25"/>
<circle cx="1078.2" cy="186.6" r="2.25"/>
<circle cx="1058.6" cy="189.0" r="2.25"/>
<circle cx="1062.4" cy="191.1" r="2.25"/>
<circle cx="1066.6" cy="193.0" r="2.25"/>
<circle cx="1070.4" cy="190.7" r="2.25"/>
<circle cx="1074.1" cy="190.8" r="2.25"/>
<circle cx="1078.2" cy="191.7" r="2.25"/>
<circle cx="1082.1" cy="192.3" r="2.25"/>
<circle cx="1058.6" cy="195.3" r="2.25"/>
<circle cx="1046.8" cy="198.9" r="2.25"/>
<circle cx="1050.6" cy="198.4" r="2.25"/>
<circle cx="1082.1" cy="198.2" r="2.25"/>
<circle cx="1090.1" cy="199.7" r="2.25"/>
<circle cx="1093.9" cy="198.2" r="2.25"/>
<circle cx="1054.8" cy="202.0" r="2.25"/>
<circle cx="1058.6" cy="201.2" r="2.25"/>
<circle cx="1062.4" cy="201.6" r="2.25"/>
<circle cx="1066.6" cy="200.1" r="2.25"/>
<circle cx="1070.4" cy="202.4" r="2.25"/>
<circle cx="1074.1" cy="200.9" r="2.25"/>
<circle cx="1078.2" cy="201.6" r="2.25"/>
<circle cx="1082.1" cy="202.8" r="2.25"/>
<circle cx="1086.1" cy="202.8" r="2.25"/>
<circle cx="1046.8" cy="204.8" r="2.25"/>
<circle cx="1050.6" cy="204.8" r="2.25"/>
<circle cx="1066.6" cy="204.9" r="2.25"/>
<circle cx="1090.1" cy="204.5" r="2.25"/>
<circle cx="1093.9" cy="205.4" r="2.25"/>
<circle cx="1054.8" cy="207.0" r="2.25"/>
<circle cx="1058.6" cy="208.7" r="2.25"/>
<circle cx="1062.4" cy="209.1" r="2.25"/>
<circle cx="1070.4" cy="207.9" r="2.25"/>
<circle cx="1074.1" cy="207.0" r="2.25"/>
<circle cx="1078.2" cy="207.9" r="2.25"/>
<circle cx="1082.1" cy="208.7" r="2.25"/>
<circle cx="1086.1" cy="208.7" r="2.25"/>
<circle cx="1066.6" cy="210.7" r="2.25"/>
<circle cx="1058.6" cy="214.6" r="2.25"/>
<circle cx="1062.4" cy="215.2" r="2.25"/>
<circle cx="1066.6" cy="216.5" r="2.25"/>
<circle cx="1070.4" cy="213.3" r="2.25"/>
<circle cx="1074.1" cy="217.1" r="2.25"/>
<circle cx="1078.2" cy="215.2" r="2.25"/>
<circle cx="1082.1" cy="214.2" r="2.25"/>
<circle cx="1066.6" cy="221.3" r="2.25"/>
<circle cx="1070.4" cy="219.6" r="2.25"/>
<circle cx="1078.2" cy="220.5" r="2.25"/>
<circle cx="1074.1" cy="223.3" r="2.25"/>
<circle cx="1078.2" cy="225.9" r="2.25"/>
<circle cx="1058.6" cy="228.5" r="2.25"/>
<circle cx="1066.6" cy="229.7" r="2.25"/>
<circle cx="1074.1" cy="228.5" r="2.25"/>
<circle cx="1058.6" cy="233.8" r="2.25"/>
<circle cx="1070.4" cy="233.0" r="2.25"/>
<circle cx="1078.2" cy="232.1" r="2.25"/>
<circle cx="1082.1" cy="233.0" r="2.25"/>
<circle cx="1062.4" cy="235.9" r="2.25"/>
<circle cx="1066.6" cy="236.6" r="2.25"/>
<circle cx="1074.1" cy="235.3" r="2.25"/>
<circle cx="1058.6" cy="238.9" r="2.25"/>
<circle cx="1070.4" cy="238.3" r="2.25"/>
<circle cx="1074.1" cy="240.5" r="2.25"/>
<circle cx="1082.1" cy="240.0" r="2.25"/>
<circle cx="1066.6" cy="242.6" r="2.25"/>
<circle cx="1070.4" cy="242.8" r="2.25"/>
<circle cx="1074.1" cy="245.8" r="2.25"/>
<circle cx="1070.4" cy="248.4" r="2.25"/>
<circle cx="1070.4" cy="261.3" r="2.25"/>
<circle cx="1068.3" cy="270.2" r="2.25"/>
<circle cx="1072.3" cy="268.9" r="2.25"/>
<circle cx="1066.4" cy="281.7" r="2.25"/>
<circle cx="1070.4" cy="283.0" r="2.25"/>
<circle cx="1070.4" cy="296.4" r="2.25"/>
<circle cx="1074.1" cy="294.3" r="2.25"/>
<circle cx="1068.3" cy="301.9" r="2.25"/>
<circle cx="1072.3" cy="301.1" r="2.25"/>
<circle cx="1070.1" cy="309.9" r="2.25"/>
<circle cx="1074.1" cy="308.4" r="2.25"/>
<circle cx="1070.4" cy="332.8" r="2.25"/>
<circle cx="1070.4" cy="344.7" r="2.25"/>
<circle cx="1138.1" cy="109.4" r="2.25"/>
<circle cx="1147.4" cy="112.2" r="2.25"/>
<circle cx="1156.8" cy="109.1" r="2.25"/>
<circle cx="1142.7" cy="121.8" r="2.25"/>
<circle cx="1152.1" cy="121.2" r="2.25"/>
<circle cx="1124.1" cy="126.7" r="2.25"/>
<circle cx="1170.9" cy="126.2" r="2.25"/>
<circle cx="1133.3" cy="130.1" r="2.25"/>
<circle cx="1142.7" cy="129.6" r="2.25"/>
<circle cx="1161.6" cy="129.2" r="2.25"/>
<circle cx="1142.7" cy="134.3" r="2.25"/>
<circle cx="1152.1" cy="134.5" r="2.25"/>
<circle cx="1142.7" cy="139.5" r="2.25"/>
<circle cx="1152.1" cy="140.2" r="2.25"/>
<circle cx="1142.7" cy="144.5" r="2.25"/>
<circle cx="1152.1" cy="145.0" r="2.25"/>
<circle cx="1138.1" cy="149.6" r="2.25"/>
<circle cx="1147.4" cy="149.6" r="2.25"/>
<circle cx="1156.8" cy="151.4" r="2.25"/>
<circle cx="1147.4" cy="155.9" r="2.25"/>
<circle cx="1133.3" cy="160.7" r="2.25"/>
<circle cx="1161.6" cy="162.9" r="2.25"/>
<circle cx="1133.3" cy="165.7" r="2.25"/>
<circle cx="1152.1" cy="166.4" r="2.25"/>
<circle cx="1133.3" cy="170.2" r="2.25"/>
<circle cx="1161.6" cy="171.8" r="2.25"/>
<circle cx="1124.1" cy="172.9" r="2.25"/>
<circle cx="1170.9" cy="173.8" r="2.25"/>
<circle cx="1133.3" cy="176.6" r="2.25"/>
<circle cx="1142.7" cy="176.9" r="2.25"/>
<circle cx="1152.1" cy="176.5" r="2.25"/>
<circle cx="1124.1" cy="177.7" r="2.25"/>
<circle cx="1170.9" cy="178.2" r="2.25"/>
<circle cx="1133.3" cy="182.1" r="2.25"/>
<circle cx="1152.1" cy="183.8" r="2.25"/>
<circle cx="1161.6" cy="181.7" r="2.25"/>
<circle cx="1161.6" cy="188.4" r="2.25"/>
<circle cx="1124.1" cy="191.6" r="2.25"/>
<circle cx="1133.3" cy="192.5" r="2.25"/>
<circle cx="1142.7" cy="193.7" r="2.25"/>
<circle cx="1152.1" cy="194.5" r="2.25"/>
<circle cx="1161.6" cy="195.0" r="2.25"/>
<circle cx="1170.9" cy="192.5" r="2.25"/>
<circle cx="1142.7" cy="198.9" r="2.25"/>
<circle cx="1152.1" cy="200.9" r="2.25"/>
<circle cx="1147.4" cy="216.0" r="2.25"/>
<path d="M1019.00,76.00V346.10" stroke="#000" stroke-width="2" fill="none"/>
<path d="M1011.20,346.10H1198.30" stroke="#000" stroke-width="2.2" fill="none"/>
<path d="M1013.80,339.37H1019.00M1013.80,332.65H1019.00M1013.80,325.92H1019.00M1013.80,319.19H1019.00M1013.80,312.46H1019.00M1013.80,305.74H1019.00M1013.80,299.01H1019.00M1013.80,292.28H1019.00M1013.80,285.55H1019.00M1011.20,278.83H1019.00M1013.80,272.10H1019.00M1013.80,265.37H1019.00M1013.80,258.64H1019.00M1013.80,251.92H1019.00M1013.80,245.19H1019.00M1013.80,238.46H1019.00M1013.80,231.73H1019.00M1013.80,225.01H1019.00M1013.80,218.28H1019.00M1011.20,211.55H1019.00M1013.80,204.82H1019.00M1013.80,198.09H1019.00M1013.80,191.37H1019.00M1013.80,184.64H1019.00M1013.80,177.91H1019.00M1013.80,171.19H1019.00M1013.80,164.46H1019.00M1013.80,157.73H1019.00M1013.80,151.00H1019.00M1011.20,144.28H1019.00M1013.80,137.55H1019.00M1013.80,130.82H1019.00M1013.80,124.09H1019.00M1013.80,117.37H1019.00M1013.80,110.64H1019.00M1013.80,103.91H1019.00M1013.80,97.18H1019.00M1013.80,90.45H1019.00M1013.80,83.73H1019.00M1011.20,77.00H1019.00" stroke="#000" stroke-width="1.8" fill="none"/>
<path d="M1070.35,346.10V353.60" stroke="#000" stroke-width="2" fill="none"/>
<path d="M1147.45,346.10V353.60" stroke="#000" stroke-width="2" fill="none"/>
<text x="1009.20" y="352.80" font-size="21" font-weight="bold" text-anchor="end" >0</text>
<text x="1009.20" y="285.53" font-size="21" font-weight="bold" text-anchor="end" >10</text>
<text x="1009.20" y="218.25" font-size="21" font-weight="bold" text-anchor="end" >20</text>
<text x="1009.20" y="150.97" font-size="21" font-weight="bold" text-anchor="end" >30</text>
<text x="1009.20" y="83.70" font-size="21" font-weight="bold" text-anchor="end" >40</text>
<text transform="translate(1078.40,371.40) rotate(-45)" font-size="20.9" font-weight="bold" text-anchor="end">TrackerWL</text>
<text transform="translate(1153.25,371.65) rotate(-45)" font-size="20.9" font-weight="bold" text-anchor="end">WormRACER</text>
<path d="M1070.70,127.20V73.40H1147.90V92.40" stroke="#000" stroke-width="1.9" fill="none"/>
<text x="1109.75" y="73.00" font-size="21" font-weight="bold" text-anchor="middle" letter-spacing="1.1">****</text>
<text x="944.20" y="22.00" font-size="25" font-weight="bold" text-anchor="start" >D</text>
<text x="1106.10" y="34.00" font-size="24.9" font-weight="normal" text-anchor="middle" >Swim Speed</text>
<text transform="translate(970.10,212.00) rotate(-90)" font-size="22.4" font-weight="bold" text-anchor="middle">um/sec</text>
<rect x="115.70" y="792.50" width="51.10" height="44.30" fill="#F3967A" stroke="#9A766E" stroke-width="1"/>
<rect x="192.80" y="805.00" width="51.10" height="31.80" fill="#9194CA" stroke="#74769A" stroke-width="1"/>
<path d="M128.10,767.30H153.70M140.90,767.30V817.10M128.10,817.10H153.70" stroke="#222" stroke-width="1.1" fill="none"/>
<path d="M205.00,800.60H230.60M217.80,800.60V809.40M205.00,809.40H230.60" stroke="#222" stroke-width="1.1" fill="none"/>
<circle cx="140.9" cy="753.3" r="2.25"/>
<circle cx="140.9" cy="755.5" r="2.25"/>
<circle cx="140.9" cy="757.8" r="2.25"/>
<circle cx="140.9" cy="760.0" r="2.25"/>
<circle cx="139.6" cy="765.0" r="2.25"/>
<circle cx="142.1" cy="769.0" r="2.25"/>
<circle cx="138.6" cy="773.4" r="2.25"/>
<circle cx="143.4" cy="775.3" r="2.25"/>
<circle cx="141.8" cy="777.8" r="2.25"/>
<circle cx="146.0" cy="779.3" r="2.25"/>
<circle cx="136.1" cy="781.2" r="2.25"/>
<circle cx="139.2" cy="779.1" r="2.25"/>
<circle cx="127.2" cy="809.3" r="2.25"/>
<circle cx="136.1" cy="785.5" r="2.25"/>
<circle cx="141.9" cy="786.2" r="2.25"/>
<circle cx="146.1" cy="786.1" r="2.25"/>
<circle cx="135.2" cy="789.7" r="2.25"/>
<circle cx="139.1" cy="789.0" r="2.25"/>
<circle cx="144.2" cy="788.5" r="2.25"/>
<circle cx="149.5" cy="788.0" r="2.25"/>
<circle cx="130.2" cy="790.9" r="2.25"/>
<circle cx="135.1" cy="791.8" r="2.25"/>
<circle cx="139.2" cy="790.3" r="2.25"/>
<circle cx="142.4" cy="791.9" r="2.25"/>
<circle cx="146.1" cy="790.6" r="2.25"/>
<circle cx="151.2" cy="790.3" r="2.25"/>
<circle cx="129.3" cy="794.5" r="2.25"/>
<circle cx="133.4" cy="793.6" r="2.25"/>
<circle cx="137.5" cy="792.9" r="2.25"/>
<circle cx="143.0" cy="794.4" r="2.25"/>
<circle cx="147.2" cy="793.4" r="2.25"/>
<circle cx="152.0" cy="792.8" r="2.25"/>
<circle cx="121.8" cy="795.4" r="2.25"/>
<circle cx="125.4" cy="795.7" r="2.25"/>
<circle cx="130.5" cy="796.0" r="2.25"/>
<circle cx="135.5" cy="795.8" r="2.25"/>
<circle cx="139.6" cy="795.4" r="2.25"/>
<circle cx="143.3" cy="796.4" r="2.25"/>
<circle cx="147.8" cy="796.1" r="2.25"/>
<circle cx="151.9" cy="796.9" r="2.25"/>
<circle cx="155.5" cy="796.4" r="2.25"/>
<circle cx="160.4" cy="796.5" r="2.25"/>
<circle cx="119.7" cy="799.4" r="2.25"/>
<circle cx="123.7" cy="798.6" r="2.25"/>
<circle cx="128.1" cy="799.2" r="2.25"/>
<circle cx="134.2" cy="798.5" r="2.25"/>
<circle cx="138.7" cy="799.2" r="2.25"/>
<circle cx="141.9" cy="798.8" r="2.25"/>
<circle cx="146.6" cy="798.4" r="2.25"/>
<circle cx="152.6" cy="798.0" r="2.25"/>
<circle cx="156.8" cy="797.8" r="2.25"/>
<circle cx="161.3" cy="798.0" r="2.25"/>
<circle cx="118.4" cy="802.3" r="2.25"/>
<circle cx="122.1" cy="800.6" r="2.25"/>
<circle cx="128.1" cy="800.9" r="2.25"/>
<circle cx="131.3" cy="800.5" r="2.25"/>
<circle cx="136.2" cy="800.4" r="2.25"/>
<circle cx="140.2" cy="800.7" r="2.25"/>
<circle cx="145.6" cy="800.6" r="2.25"/>
<circle cx="149.7" cy="800.8" r="2.25"/>
<circle cx="154.9" cy="802.4" r="2.25"/>
<circle cx="159.3" cy="802.2" r="2.25"/>
<circle cx="162.9" cy="801.5" r="2.25"/>
<circle cx="117.1" cy="804.8" r="2.25"/>
<circle cx="121.7" cy="803.1" r="2.25"/>
<circle cx="126.2" cy="804.6" r="2.25"/>
<circle cx="129.2" cy="803.2" r="2.25"/>
<circle cx="134.9" cy="804.5" r="2.25"/>
<circle cx="138.8" cy="803.0" r="2.25"/>
<circle cx="142.6" cy="803.3" r="2.25"/>
<circle cx="148.2" cy="803.3" r="2.25"/>
<circle cx="151.4" cy="804.3" r="2.25"/>
<circle cx="156.3" cy="804.0" r="2.25"/>
<circle cx="160.6" cy="804.7" r="2.25"/>
<circle cx="164.6" cy="804.8" r="2.25"/>
<circle cx="116.7" cy="805.9" r="2.25"/>
<circle cx="120.3" cy="807.7" r="2.25"/>
<circle cx="126.3" cy="806.5" r="2.25"/>
<circle cx="129.8" cy="807.2" r="2.25"/>
<circle cx="134.3" cy="806.0" r="2.25"/>
<circle cx="138.4" cy="806.4" r="2.25"/>
<circle cx="143.4" cy="806.1" r="2.25"/>
<circle cx="148.2" cy="807.8" r="2.25"/>
<circle cx="152.0" cy="807.0" r="2.25"/>
<circle cx="156.8" cy="807.5" r="2.25"/>
<circle cx="161.3" cy="806.8" r="2.25"/>
<circle cx="165.5" cy="807.3" r="2.25"/>
<circle cx="140.9" cy="623.5" r="2.25"/>
<circle cx="140.9" cy="678.6" r="2.25"/>
<circle cx="216.8" cy="789.0" r="2.25"/>
<circle cx="219.2" cy="792.5" r="2.25"/>
<circle cx="207.9" cy="798.0" r="2.25"/>
<circle cx="225.7" cy="797.7" r="2.25"/>
<circle cx="218.5" cy="799.3" r="2.25"/>
<circle cx="221.2" cy="798.5" r="2.25"/>
<circle cx="223.3" cy="798.7" r="2.25"/>
<circle cx="212.1" cy="813.1" r="2.25"/>
<circle cx="201.2" cy="801.1" r="2.25"/>
<circle cx="230.3" cy="801.1" r="2.25"/>
<circle cx="236.7" cy="801.1" r="2.25"/>
<circle cx="241.5" cy="804.6" r="2.25"/>
<circle cx="194.0" cy="805.1" r="2.25"/>
<circle cx="208.4" cy="800.9" r="2.25"/>
<circle cx="215.3" cy="802.8" r="2.25"/>
<circle cx="221.0" cy="801.3" r="2.25"/>
<circle cx="227.0" cy="800.9" r="2.25"/>
<circle cx="232.9" cy="801.7" r="2.25"/>
<circle cx="200.9" cy="802.9" r="2.25"/>
<circle cx="205.8" cy="803.0" r="2.25"/>
<circle cx="209.7" cy="804.2" r="2.25"/>
<circle cx="214.7" cy="803.7" r="2.25"/>
<circle cx="219.0" cy="803.7" r="2.25"/>
<circle cx="225.1" cy="804.2" r="2.25"/>
<circle cx="229.0" cy="802.7" r="2.25"/>
<circle cx="234.3" cy="803.1" r="2.25"/>
<circle cx="238.8" cy="803.1" r="2.25"/>
<circle cx="194.0" cy="804.5" r="2.25"/>
<circle cx="198.2" cy="805.5" r="2.25"/>
<circle cx="202.6" cy="805.5" r="2.25"/>
<circle cx="207.5" cy="805.8" r="2.25"/>
<circle cx="211.6" cy="806.2" r="2.25"/>
<circle cx="215.8" cy="805.2" r="2.25"/>
<circle cx="220.5" cy="806.2" r="2.25"/>
<circle cx="224.9" cy="806.1" r="2.25"/>
<circle cx="228.3" cy="805.0" r="2.25"/>
<circle cx="233.6" cy="805.6" r="2.25"/>
<circle cx="238.2" cy="804.6" r="2.25"/>
<circle cx="242.0" cy="804.7" r="2.25"/>
<circle cx="197.7" cy="806.8" r="2.25"/>
<circle cx="201.9" cy="806.1" r="2.25"/>
<circle cx="206.2" cy="807.3" r="2.25"/>
<circle cx="211.1" cy="806.4" r="2.25"/>
<circle cx="215.2" cy="807.6" r="2.25"/>
<circle cx="218.7" cy="805.9" r="2.25"/>
<circle cx="223.0" cy="807.4" r="2.25"/>
<circle cx="228.7" cy="806.8" r="2.25"/>
<circle cx="232.0" cy="807.3" r="2.25"/>
<circle cx="236.3" cy="806.0" r="2.25"/>
<circle cx="240.9" cy="806.4" r="2.25"/>
<circle cx="198.3" cy="808.8" r="2.25"/>
<circle cx="202.5" cy="808.3" r="2.25"/>
<circle cx="206.7" cy="807.8" r="2.25"/>
<circle cx="211.7" cy="808.3" r="2.25"/>
<circle cx="215.9" cy="808.7" r="2.25"/>
<circle cx="220.6" cy="809.3" r="2.25"/>
<circle cx="223.6" cy="808.5" r="2.25"/>
<circle cx="227.7" cy="809.2" r="2.25"/>
<circle cx="232.4" cy="809.6" r="2.25"/>
<circle cx="237.2" cy="808.0" r="2.25"/>
<circle cx="202.0" cy="810.2" r="2.25"/>
<circle cx="206.4" cy="810.9" r="2.25"/>
<circle cx="211.0" cy="811.0" r="2.25"/>
<circle cx="214.9" cy="809.3" r="2.25"/>
<circle cx="219.1" cy="809.2" r="2.25"/>
<circle cx="224.5" cy="810.6" r="2.25"/>
<circle cx="229.0" cy="810.8" r="2.25"/>
<circle cx="232.9" cy="809.4" r="2.25"/>
<path d="M89.90,566.20V836.80" stroke="#000" stroke-width="2" fill="none"/>
<path d="M82.10,836.80H269.20" stroke="#000" stroke-width="2.2" fill="none"/>
<path d="M84.70,831.41H89.90M84.70,826.02H89.90M84.70,820.62H89.90M84.70,815.23H89.90M84.70,809.84H89.90M84.70,804.45H89.90M84.70,799.06H89.90M84.70,793.66H89.90M84.70,788.27H89.90M82.10,782.88H89.90M84.70,777.49H89.90M84.70,772.10H89.90M84.70,766.70H89.90M84.70,761.31H89.90M84.70,755.92H89.90M84.70,750.53H89.90M84.70,745.14H89.90M84.70,739.74H89.90M84.70,734.35H89.90M82.10,728.96H89.90M84.70,723.57H89.90M84.70,718.18H89.90M84.70,712.78H89.90M84.70,707.39H89.90M84.70,702.00H89.90M84.70,696.61H89.90M84.70,691.22H89.90M84.70,685.82H89.90M84.70,680.43H89.90M82.10,675.04H89.90M84.70,669.65H89.90M84.70,664.26H89.90M84.70,658.86H89.90M84.70,653.47H89.90M84.70,648.08H89.90M84.70,642.69H89.90M84.70,637.30H89.90M84.70,631.90H89.90M84.70,626.51H89.90M82.10,621.12H89.90M84.70,615.73H89.90M84.70,610.34H89.90M84.70,604.94H89.90M84.70,599.55H89.90M84.70,594.16H89.90M84.70,588.77H89.90M84.70,583.38H89.90M84.70,577.98H89.90M84.70,572.59H89.90M82.10,567.20H89.90" stroke="#000" stroke-width="1.8" fill="none"/>
<path d="M141.25,836.80V844.30" stroke="#000" stroke-width="2" fill="none"/>
<path d="M218.35,836.80V844.30" stroke="#000" stroke-width="2" fill="none"/>
<text x="80.10" y="843.50" font-size="21" font-weight="bold" text-anchor="end" >0</text>
<text x="80.10" y="789.58" font-size="21" font-weight="bold" text-anchor="end" >200</text>
<text x="80.10" y="735.66" font-size="21" font-weight="bold" text-anchor="end" >400</text>
<text x="80.10" y="681.74" font-size="21" font-weight="bold" text-anchor="end" >600</text>
<text x="80.10" y="627.82" font-size="21" font-weight="bold" text-anchor="end" >800</text>
<text x="80.10" y="573.90" font-size="21" font-weight="bold" text-anchor="end" >1000</text>
<text transform="translate(157.45,859.35) rotate(-45)" font-size="20.9" font-weight="bold" text-anchor="end">TrackerWL</text>
<text transform="translate(232.15,859.10) rotate(-45)" font-size="20.9" font-weight="bold" text-anchor="end">WormRACER</text>
<path d="M140.90,600.40V578.10H217.80V623.90" stroke="#000" stroke-width="1.9" fill="none"/>
<text x="180.00" y="577.80" font-size="21" font-weight="bold" text-anchor="middle" letter-spacing="1.2">***</text>
<text x="1.80" y="510.60" font-size="25" font-weight="bold" text-anchor="start" >E</text>
<text x="179.40" y="531.70" font-size="24.9" font-weight="normal" text-anchor="middle" >Dynamic Amplitude</text>
<text transform="translate(25.20,694.20) rotate(-90)" font-size="22.4" font-weight="bold" text-anchor="middle">1/mm</text>
<rect x="522.50" y="687.40" width="51.10" height="149.40" fill="#F3967A" stroke="#9A766E" stroke-width="1"/>
<rect x="599.60" y="668.70" width="51.10" height="168.10" fill="#9194CA" stroke="#74769A" stroke-width="1"/>
<path d="M535.40,633.30H561.00M548.20,633.30V741.40M535.40,741.40H561.00" stroke="#222" stroke-width="1.1" fill="none"/>
<path d="M612.35,647.20H638.05M625.20,647.20V690.10M612.35,690.10H638.05" stroke="#222" stroke-width="1.1" fill="none"/>
<circle cx="542.3" cy="608.7" r="2.25"/>
<circle cx="554.0" cy="612.1" r="2.25"/>
<circle cx="542.3" cy="616.4" r="2.25"/>
<circle cx="548.2" cy="618.0" r="2.25"/>
<circle cx="548.2" cy="623.0" r="2.25"/>
<circle cx="542.3" cy="626.5" r="2.25"/>
<circle cx="559.9" cy="627.2" r="2.25"/>
<circle cx="542.3" cy="631.2" r="2.25"/>
<circle cx="548.2" cy="629.5" r="2.25"/>
<circle cx="554.0" cy="630.7" r="2.25"/>
<circle cx="536.4" cy="634.8" r="2.25"/>
<circle cx="559.9" cy="634.9" r="2.25"/>
<circle cx="542.3" cy="637.6" r="2.25"/>
<circle cx="548.2" cy="637.3" r="2.25"/>
<circle cx="554.0" cy="637.0" r="2.25"/>
<circle cx="548.2" cy="642.5" r="2.25"/>
<circle cx="554.0" cy="642.5" r="2.25"/>
<circle cx="565.8" cy="644.6" r="2.25"/>
<circle cx="530.5" cy="648.0" r="2.25"/>
<circle cx="565.8" cy="649.4" r="2.25"/>
<circle cx="524.7" cy="652.6" r="2.25"/>
<circle cx="530.5" cy="653.4" r="2.25"/>
<circle cx="536.4" cy="651.6" r="2.25"/>
<circle cx="542.3" cy="651.7" r="2.25"/>
<circle cx="548.2" cy="654.1" r="2.25"/>
<circle cx="559.9" cy="653.0" r="2.25"/>
<circle cx="565.8" cy="654.7" r="2.25"/>
<circle cx="571.7" cy="652.7" r="2.25"/>
<circle cx="536.4" cy="656.1" r="2.25"/>
<circle cx="542.3" cy="656.6" r="2.25"/>
<circle cx="554.0" cy="656.8" r="2.25"/>
<circle cx="530.5" cy="658.9" r="2.25"/>
<circle cx="548.2" cy="658.9" r="2.25"/>
<circle cx="554.0" cy="662.2" r="2.25"/>
<circle cx="559.9" cy="661.2" r="2.25"/>
<circle cx="565.8" cy="661.2" r="2.25"/>
<circle cx="542.3" cy="663.3" r="2.25"/>
<circle cx="548.2" cy="663.5" r="2.25"/>
<circle cx="542.3" cy="668.4" r="2.25"/>
<circle cx="565.8" cy="668.4" r="2.25"/>
<circle cx="530.5" cy="670.6" r="2.25"/>
<circle cx="536.4" cy="670.9" r="2.25"/>
<circle cx="548.2" cy="670.4" r="2.25"/>
<circle cx="554.0" cy="670.1" r="2.25"/>
<circle cx="559.9" cy="672.6" r="2.25"/>
<circle cx="530.5" cy="675.3" r="2.25"/>
<circle cx="536.4" cy="677.1" r="2.25"/>
<circle cx="542.3" cy="675.1" r="2.25"/>
<circle cx="565.8" cy="675.3" r="2.25"/>
<circle cx="542.3" cy="679.5" r="2.25"/>
<circle cx="548.2" cy="681.0" r="2.25"/>
<circle cx="554.0" cy="680.7" r="2.25"/>
<circle cx="559.9" cy="677.8" r="2.25"/>
<circle cx="536.4" cy="682.4" r="2.25"/>
<circle cx="559.9" cy="682.0" r="2.25"/>
<circle cx="548.2" cy="685.9" r="2.25"/>
<circle cx="545.0" cy="690.8" r="2.25"/>
<circle cx="551.1" cy="691.6" r="2.25"/>
<circle cx="542.3" cy="704.2" r="2.25"/>
<circle cx="548.2" cy="705.9" r="2.25"/>
<circle cx="554.0" cy="704.0" r="2.25"/>
<circle cx="536.4" cy="708.4" r="2.25"/>
<circle cx="542.3" cy="709.5" r="2.25"/>
<circle cx="559.9" cy="708.2" r="2.25"/>
<circle cx="548.2" cy="712.4" r="2.25"/>
<circle cx="554.0" cy="712.6" r="2.25"/>
<circle cx="542.3" cy="715.8" r="2.25"/>
<circle cx="548.2" cy="720.0" r="2.25"/>
<circle cx="542.3" cy="721.9" r="2.25"/>
<circle cx="554.0" cy="721.1" r="2.25"/>
<circle cx="548.2" cy="726.3" r="2.25"/>
<circle cx="545.0" cy="735.1" r="2.25"/>
<circle cx="551.1" cy="736.2" r="2.25"/>
<circle cx="554.0" cy="746.4" r="2.25"/>
<circle cx="548.2" cy="748.8" r="2.25"/>
<circle cx="542.3" cy="751.9" r="2.25"/>
<circle cx="548.1" cy="760.8" r="2.25"/>
<circle cx="542.1" cy="787.1" r="2.25"/>
<circle cx="548.1" cy="786.9" r="2.25"/>
<circle cx="554.1" cy="785.1" r="2.25"/>
<circle cx="548.1" cy="791.7" r="2.25"/>
<circle cx="554.1" cy="791.1" r="2.25"/>
<circle cx="544.9" cy="806.4" r="2.25"/>
<circle cx="550.9" cy="808.4" r="2.25"/>
<circle cx="548.1" cy="814.1" r="2.25"/>
<circle cx="544.9" cy="833.0" r="2.25"/>
<circle cx="550.9" cy="832.3" r="2.25"/>
<circle cx="619.3" cy="635.0" r="2.25"/>
<circle cx="625.2" cy="638.8" r="2.25"/>
<circle cx="607.5" cy="644.5" r="2.25"/>
<circle cx="613.4" cy="645.0" r="2.25"/>
<circle cx="642.8" cy="644.5" r="2.25"/>
<circle cx="625.2" cy="647.2" r="2.25"/>
<circle cx="631.0" cy="648.1" r="2.25"/>
<circle cx="636.9" cy="648.9" r="2.25"/>
<circle cx="613.4" cy="650.6" r="2.25"/>
<circle cx="619.3" cy="652.3" r="2.25"/>
<circle cx="625.2" cy="651.8" r="2.25"/>
<circle cx="631.0" cy="653.4" r="2.25"/>
<circle cx="636.9" cy="655.0" r="2.25"/>
<circle cx="607.5" cy="654.4" r="2.25"/>
<circle cx="613.4" cy="656.9" r="2.25"/>
<circle cx="625.2" cy="658.7" r="2.25"/>
<circle cx="636.9" cy="660.3" r="2.25"/>
<circle cx="648.7" cy="659.8" r="2.25"/>
<circle cx="642.8" cy="661.9" r="2.25"/>
<circle cx="601.7" cy="664.0" r="2.25"/>
<circle cx="619.3" cy="662.9" r="2.25"/>
<circle cx="631.0" cy="663.4" r="2.25"/>
<circle cx="607.5" cy="666.6" r="2.25"/>
<circle cx="613.4" cy="666.3" r="2.25"/>
<circle cx="625.2" cy="665.7" r="2.25"/>
<circle cx="636.9" cy="666.0" r="2.25"/>
<circle cx="642.8" cy="666.6" r="2.25"/>
<circle cx="648.7" cy="666.6" r="2.25"/>
<circle cx="631.0" cy="668.7" r="2.25"/>
<circle cx="619.3" cy="670.2" r="2.25"/>
<circle cx="613.4" cy="672.9" r="2.25"/>
<circle cx="625.2" cy="673.0" r="2.25"/>
<circle cx="636.9" cy="673.7" r="2.25"/>
<circle cx="619.3" cy="675.4" r="2.25"/>
<circle cx="631.0" cy="677.7" r="2.25"/>
<circle cx="619.3" cy="680.4" r="2.25"/>
<circle cx="625.2" cy="681.4" r="2.25"/>
<circle cx="619.3" cy="684.8" r="2.25"/>
<circle cx="631.0" cy="685.9" r="2.25"/>
<circle cx="619.3" cy="694.3" r="2.25"/>
<circle cx="625.2" cy="693.0" r="2.25"/>
<circle cx="631.0" cy="695.7" r="2.25"/>
<circle cx="625.2" cy="698.5" r="2.25"/>
<circle cx="625.2" cy="705.0" r="2.25"/>
<circle cx="628.0" cy="732.3" r="2.25"/>
<circle cx="622.1" cy="735.4" r="2.25"/>
<path d="M496.70,565.80V836.80" stroke="#000" stroke-width="2" fill="none"/>
<path d="M488.90,836.80H676.00" stroke="#000" stroke-width="2.2" fill="none"/>
<path d="M491.50,827.80H496.70M491.50,818.80H496.70M491.50,809.80H496.70M491.50,800.80H496.70M491.50,791.80H496.70M491.50,782.80H496.70M491.50,773.80H496.70M491.50,764.80H496.70M491.50,755.80H496.70M488.90,746.80H496.70M491.50,737.80H496.70M491.50,728.80H496.70M491.50,719.80H496.70M491.50,710.80H496.70M491.50,701.80H496.70M491.50,692.80H496.70M491.50,683.80H496.70M491.50,674.80H496.70M491.50,665.80H496.70M488.90,656.80H496.70M491.50,647.80H496.70M491.50,638.80H496.70M491.50,629.80H496.70M491.50,620.80H496.70M491.50,611.80H496.70M491.50,602.80H496.70M491.50,593.80H496.70M491.50,584.80H496.70M491.50,575.80H496.70M488.90,566.80H496.70" stroke="#000" stroke-width="1.8" fill="none"/>
<path d="M548.05,836.80V844.30" stroke="#000" stroke-width="2" fill="none"/>
<path d="M625.15,836.80V844.30" stroke="#000" stroke-width="2" fill="none"/>
<text x="486.90" y="843.50" font-size="21" font-weight="bold" text-anchor="end" >0</text>
<text x="486.90" y="753.50" font-size="21" font-weight="bold" text-anchor="end" >50</text>
<text x="486.90" y="663.50" font-size="21" font-weight="bold" text-anchor="end" >100</text>
<text x="486.90" y="573.50" font-size="21" font-weight="bold" text-anchor="end" >150</text>
<text transform="translate(560.95,858.60) rotate(-45)" font-size="20.9" font-weight="bold" text-anchor="end">TrackerWL</text>
<text transform="translate(636.05,859.10) rotate(-45)" font-size="20.9" font-weight="bold" text-anchor="end">WormRACER</text>
<path d="M543.30,578.50V560.90H625.30V603.20" stroke="#000" stroke-width="1.9" fill="none"/>
<text x="584.30" y="560.20" font-size="21" font-weight="bold" text-anchor="middle" >*</text>
<text x="409.10" y="518.60" font-size="25" font-weight="bold" text-anchor="start" >F</text>
<text x="587.60" y="531.60" font-size="24.9" font-weight="normal" text-anchor="middle" >Wave Initiation Rate</text>
<text transform="translate(442.60,699.90) rotate(-90)" font-size="22.4" font-weight="bold" text-anchor="middle">WIR (waves/min)</text>
<rect x="922.70" y="790.80" width="51.10" height="43.90" fill="#F3967A" stroke="#9A766E" stroke-width="1"/>
<rect x="999.80" y="818.60" width="51.10" height="16.10" fill="#9194CA" stroke="#74769A" stroke-width="1"/>
<path d="M935.80,727.30H961.00M948.40,727.30V834.70" stroke="#222" stroke-width="1.1" fill="none"/>
<path d="M1012.40,801.20H1038.40M1025.40,801.20V834.70" stroke="#222" stroke-width="1.1" fill="none"/>
<circle cx="948.4" cy="610.4" r="2.25"/>
<circle cx="948.4" cy="643.9" r="2.25"/>
<circle cx="948.4" cy="737.9" r="2.25"/>
<circle cx="948.4" cy="757.2" r="2.25"/>
<circle cx="948.4" cy="769.1" r="2.25"/>
<circle cx="943.7" cy="778.6" r="2.25"/>
<circle cx="952.9" cy="781.7" r="2.25"/>
<circle cx="943.7" cy="805.6" r="2.25"/>
<circle cx="952.9" cy="805.4" r="2.25"/>
<circle cx="934.3" cy="824.5" r="2.25"/>
<circle cx="943.7" cy="823.5" r="2.25"/>
<circle cx="971.8" cy="825.2" r="2.25"/>
<circle cx="924.8" cy="828.1" r="2.25"/>
<circle cx="934.3" cy="829.8" r="2.25"/>
<circle cx="952.9" cy="830.2" r="2.25"/>
<circle cx="962.3" cy="828.1" r="2.25"/>
<circle cx="971.8" cy="830.8" r="2.25"/>
<circle cx="924.8" cy="832.3" r="2.25"/>
<circle cx="943.7" cy="831.5" r="2.25"/>
<circle cx="962.3" cy="832.7" r="2.25"/>
<circle cx="1021.6" cy="779.6" r="2.25"/>
<circle cx="1029.3" cy="779.2" r="2.25"/>
<circle cx="1025.4" cy="789.0" r="2.25"/>
<circle cx="1025.4" cy="807.6" r="2.25"/>
<circle cx="1021.6" cy="813.9" r="2.25"/>
<circle cx="1029.3" cy="814.3" r="2.25"/>
<circle cx="1009.8" cy="818.7" r="2.25"/>
<circle cx="1025.4" cy="819.8" r="2.25"/>
<circle cx="1041.1" cy="820.8" r="2.25"/>
<circle cx="1017.6" cy="822.1" r="2.25"/>
<circle cx="1033.2" cy="823.3" r="2.25"/>
<circle cx="1041.1" cy="825.7" r="2.25"/>
<circle cx="1009.8" cy="830.0" r="2.25"/>
<circle cx="1025.4" cy="830.4" r="2.25"/>
<circle cx="1033.2" cy="828.7" r="2.25"/>
<circle cx="1001.9" cy="832.0" r="2.25"/>
<circle cx="1017.6" cy="831.8" r="2.25"/>
<circle cx="1041.1" cy="831.2" r="2.25"/>
<circle cx="1033.2" cy="834.7" r="2.25"/>
<circle cx="1049.0" cy="833.4" r="2.25"/>
<path d="M896.90,563.90V834.70" stroke="#000" stroke-width="2" fill="none"/>
<path d="M889.10,834.70H1076.20" stroke="#000" stroke-width="2.2" fill="none"/>
<path d="M891.70,827.96H896.90M891.70,821.21H896.90M891.70,814.47H896.90M891.70,807.72H896.90M891.70,800.98H896.90M891.70,794.23H896.90M891.70,787.49H896.90M891.70,780.74H896.90M891.70,774.00H896.90M889.10,767.25H896.90M891.70,760.50H896.90M891.70,753.76H896.90M891.70,747.01H896.90M891.70,740.27H896.90M891.70,733.52H896.90M891.70,726.78H896.90M891.70,720.03H896.90M891.70,713.29H896.90M891.70,706.54H896.90M889.10,699.80H896.90M891.70,693.05H896.90M891.70,686.31H896.90M891.70,679.56H896.90M891.70,672.82H896.90M891.70,666.07H896.90M891.70,659.33H896.90M891.70,652.58H896.90M891.70,645.84H896.90M891.70,639.09H896.90M889.10,632.35H896.90M891.70,625.61H896.90M891.70,618.86H896.90M891.70,612.12H896.90M891.70,605.37H896.90M891.70,598.62H896.90M891.70,591.88H896.90M891.70,585.13H896.90M891.70,578.39H896.90M891.70,571.64H896.90M889.10,564.90H896.90" stroke="#000" stroke-width="1.8" fill="none"/>
<path d="M948.25,834.70V842.20" stroke="#000" stroke-width="2" fill="none"/>
<path d="M1025.35,834.70V842.20" stroke="#000" stroke-width="2" fill="none"/>
<text x="887.10" y="841.40" font-size="21" font-weight="bold" text-anchor="end" >0</text>
<text x="887.10" y="773.95" font-size="21" font-weight="bold" text-anchor="end" >20</text>
<text x="887.10" y="706.50" font-size="21" font-weight="bold" text-anchor="end" >40</text>
<text x="887.10" y="639.05" font-size="21" font-weight="bold" text-anchor="end" >60</text>
<text x="887.10" y="571.60" font-size="21" font-weight="bold" text-anchor="end" >80</text>
<text transform="translate(967.05,859.50) rotate(-45)" font-size="20.9" font-weight="bold" text-anchor="end">TrackerWL</text>
<text transform="translate(1041.90,859.00) rotate(-45)" font-size="20.9" font-weight="bold" text-anchor="end">WormRACER</text>
<path d="M948.40,601.40V592.70H1025.30V770.80" stroke="#000" stroke-width="1.5" fill="none"/>
<text x="986.80" y="584.80" font-size="13" font-weight="normal" text-anchor="middle" >ns</text>
<text x="793.80" y="521.30" font-size="25" font-weight="bold" text-anchor="start" >G</text>
<text x="997.20" y="531.30" font-size="24.9" font-weight="normal" text-anchor="middle" >Wave Initiation Rate Error</text>
<text transform="translate(830.40,692.30) rotate(-90)" font-size="22.4" font-weight="bold" text-anchor="middle">% Deviation from Hand</text>
<text transform="translate(855.70,688.50) rotate(-90)" font-size="22.4" font-weight="bold" text-anchor="middle">Count</text>
</svg>
</body></html>
